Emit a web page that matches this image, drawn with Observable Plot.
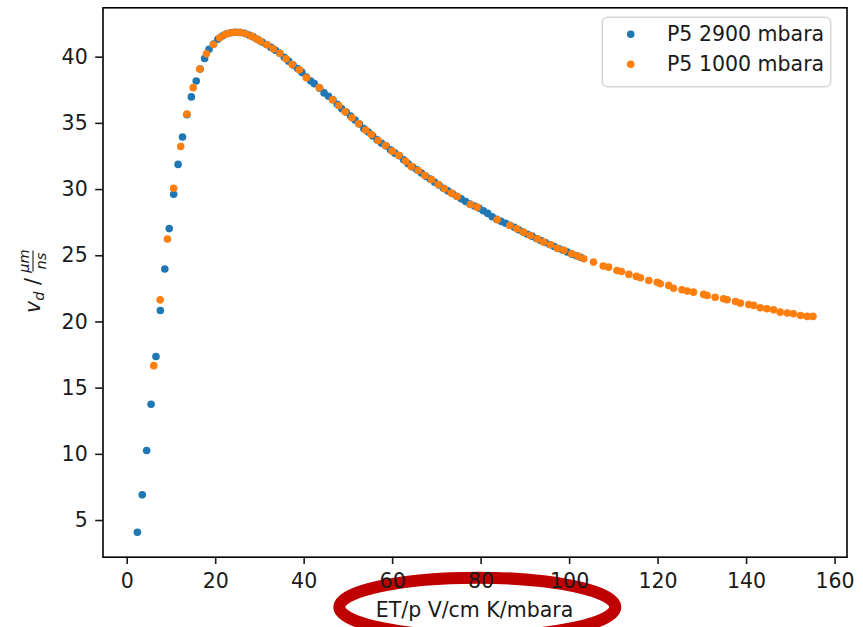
<!DOCTYPE html>
<html><head><meta charset="utf-8">
<script src="https://cdn.jsdelivr.net/npm/d3@7"></script>
<script src="https://cdn.jsdelivr.net/npm/@observablehq/plot@0.6"></script>
<style>
body{margin:0;background:#fff}
#chart{position:relative;width:863px;height:627px;overflow:hidden;background:#fff}
</style>
</head><body><div id="chart"></div>
<script>
const seriesNames = ["P5 2900 mbara", "P5 1000 mbara"];
const seriesColors = ["#1f77b4", "#ff7f0e"];
const xTicks = [0, 20, 40, 60, 80, 100, 120, 140, 160];
const yTicks = [5, 10, 15, 20, 25, 30, 35, 40];
const xLabel = "ET/p V/cm K/mbara";

const p2900_x = [2.3, 3.4, 4.4, 5.4, 6.5, 7.5, 8.5, 9.5, 10.5, 11.5, 12.5, 13.5, 14.5, 15.6, 16.5, 17.5, 18.5, 19.5, 20.5, 21.5, 22.5, 23.5, 24.5, 25.5, 26.5, 27.5, 28.5, 29.5, 30.5, 31.5, 32.5, 33.5, 34.5, 35.5, 36.5, 37.5, 38.5, 39.5, 40.5, 41.5, 42.3, 43.5, 44.5, 45.5, 46.5, 47.5, 48.5, 49.5, 50.5, 51.5, 52.5, 53.5, 54.5, 55.5, 56.5, 57.5, 58.5, 59.5, 60.5, 61.5, 62.5, 63.5, 64.5, 65.5, 66.5, 67.5, 68.5, 69.5, 70.5, 71.5, 72.5, 73.5, 74.5, 75.5, 76.5, 77.5, 78.5, 79.5, 80.5, 81.5, 82.5, 83.5, 84.5, 85.5, 86.5, 87.5, 88.5, 89.5, 90.5, 91.5, 92.5, 93.5, 94.5, 95.5, 96.5, 97.5, 98.5, 99.5, 100.5, 101.5, 102.5];
const p2900_y = [4.12, 6.94, 10.29, 13.78, 17.39, 20.86, 24.0, 27.05, 29.65, 31.9, 33.97, 35.65, 37.0, 38.2, 39.1, 39.9, 40.6, 41.0, 41.35, 41.6, 41.77, 41.85, 41.88, 41.86, 41.8, 41.68, 41.52, 41.34, 41.15, 40.96, 40.74, 40.52, 40.3, 40.0, 39.7, 39.4, 39.15, 38.85, 38.5, 38.2, 38.0, 37.65, 37.3, 37.05, 36.78, 36.45, 36.1, 35.85, 35.55, 35.25, 34.95, 34.6, 34.35, 34.05, 33.75, 33.5, 33.3, 33.0, 32.75, 32.55, 32.25, 31.95, 31.7, 31.5, 31.25, 31.0, 30.8, 30.55, 30.35, 30.1, 29.9, 29.7, 29.5, 29.3, 29.1, 28.9, 28.75, 28.6, 28.4, 28.2, 27.95, 27.75, 27.6, 27.45, 27.3, 27.15, 26.97, 26.8, 26.63, 26.48, 26.3, 26.15, 26.0, 25.85, 25.7, 25.55, 25.42, 25.28, 25.12, 25.0, 24.88];

const p1000_x = [6.0, 7.45, 9.1, 10.5, 12.1, 13.5, 14.9, 16.4, 17.9, 19.5, 20.9, 22.0, 22.9, 24.1, 25.45, 26.8, 28.1, 29.15, 30.1, 31.6, 33.0, 34.5, 35.9, 37.3, 38.9, 40.5, 43.4, 46.4, 47.8, 49.25, 50.8, 52.3, 53.9, 55.2, 56.7, 58.4, 59.9, 61.4, 62.9, 64.2, 65.8, 67.3, 68.8, 70.3, 71.7, 73.3, 74.6, 77.6, 79.1, 83.6, 86.5, 88.1, 89.6, 91.1, 92.7, 94.1, 95.7, 97.2, 98.7, 100.5, 101.9, 103.2, 105.4, 107.6, 108.8, 110.7, 111.7, 113.4, 115.1, 116.0, 117.9, 119.8, 120.5, 122.4, 123.5, 125.4, 126.6, 128.0, 130.3, 131.1, 132.9, 134.8, 135.6, 137.5, 138.6, 140.5, 141.6, 143.1, 144.6, 146.1, 147.6, 149.2, 150.6, 152.2, 153.7, 155.0];
const p1000_y = [16.7, 21.67, 26.27, 30.1, 33.25, 35.7, 37.7, 39.1, 40.25, 40.96, 41.46, 41.69, 41.81, 41.87, 41.87, 41.77, 41.59, 41.39, 41.21, 40.94, 40.63, 40.3, 39.88, 39.45, 39.05, 38.45, 37.7, 36.78, 36.35, 35.88, 35.42, 34.97, 34.5, 34.16, 33.71, 33.33, 32.9, 32.58, 32.15, 31.75, 31.44, 31.06, 30.76, 30.38, 30.06, 29.73, 29.48, 28.87, 28.67, 27.72, 27.29, 27.04, 26.78, 26.53, 26.28, 26.03, 25.83, 25.57, 25.42, 25.15, 24.97, 24.77, 24.52, 24.22, 24.14, 23.89, 23.81, 23.59, 23.44, 23.34, 23.13, 23.0, 22.88, 22.76, 22.55, 22.43, 22.33, 22.25, 22.08, 22.0, 21.87, 21.75, 21.68, 21.55, 21.42, 21.32, 21.25, 21.07, 21.0, 20.92, 20.74, 20.67, 20.62, 20.49, 20.42, 20.42];

const s2900 = p2900_x.map((x, i) => ({x, y: p2900_y[i]}));
const s1000 = p1000_x.map((x, i) => ({x, y: p1000_y[i]}));

const W = 863, H = 627;
const FONT = "DejaVu Sans";
const plot = Plot.plot({
  width: W, height: H,
  marginLeft: 102.5, marginRight: 16.5, marginTop: 7.3, marginBottom: 70.3,
  style: {fontFamily: FONT, fontSize: "20.5px", background: "transparent", color: "#1a1a1a", overflow: "visible"},
  x: {domain: [-5.47, 162.7]},
  y: {domain: [2.23, 43.73]},
  marks: [
    Plot.axisX({ticks: xTicks, tickSize: 7.3, tickPadding: 9, tickFormat: d => String(d), label: null, strokeWidth: 1.6}),
    Plot.axisY({ticks: yTicks, tickSize: 7.3, tickPadding: 8, tickFormat: d => String(d), label: null, strokeWidth: 1.6}),
    Plot.dot(s2900, {x: "x", y: "y", r: 3.8, fill: seriesColors[0]}),
    Plot.dot(s1000, {x: "x", y: "y", r: 3.8, fill: seriesColors[1]}),
    Plot.frame({stroke: "#000", strokeWidth: 1.6})
  ]
});

const svg = d3.select(plot);
// red annotation ellipse (behind everything)
svg.insert("ellipse", ":first-child")
  .attr("cx", 477.3).attr("cy", 607).attr("rx", 138).attr("ry", 29.3)
  .attr("fill", "none").attr("stroke", "#c00000").attr("stroke-width", 12);

// x label
svg.append("text").attr("x", 474.5).attr("y", 616.7).attr("text-anchor", "middle")
  .attr("font-family", FONT).attr("font-size", 20.5).attr("fill", "#1a1a1a").text(xLabel);

// y label: v_d / (μm / ns)
const g = svg.append("g").attr("transform", "translate(40,282) rotate(-90)")
  .attr("font-family", FONT).attr("fill", "#1a1a1a");
const t = g.append("text").attr("x", -31).attr("y", 0).attr("font-size", 20.5).attr("text-anchor", "start");
t.append("tspan").attr("font-style", "italic").text("v");
t.append("tspan").attr("font-style", "italic").attr("font-size", 14.5).attr("dy", 3.5).text("d");
t.append("tspan").attr("dy", -3.5).text("\u00a0/\u00a0");
g.append("text").attr("x", 21).attr("y", -11.5).attr("text-anchor", "middle")
  .attr("font-size", 14.5).attr("font-style", "italic").text("\u03bcm");
g.append("line").attr("x1", 10.5).attr("x2", 31.5).attr("y1", -7).attr("y2", -7)
  .attr("stroke", "#1a1a1a").attr("stroke-width", 1.1);
g.append("text").attr("x", 21).attr("y", 6).attr("text-anchor", "middle")
  .attr("font-size", 14.5).attr("font-style", "italic").text("ns");

// legend
const lg = svg.append("g").attr("font-family", FONT);
lg.append("rect").attr("x", 602.3).attr("y", 17.3).attr("width", 228.4).attr("height", 69.4)
  .attr("rx", 5).attr("fill", "#fff").attr("fill-opacity", 0.8)
  .attr("stroke", "#d6d6d6").attr("stroke-width", 1.5);
seriesNames.forEach((name, i) => {
  const cy = 34.3 + i * 30;
  lg.append("circle").attr("cx", 630.7).attr("cy", cy).attr("r", 3.8).attr("fill", seriesColors[i]);
  lg.append("text").attr("x", 667).attr("y", cy + 6.4).attr("text-anchor", "start")
    .attr("font-size", 20.5).attr("fill", "#1a1a1a").text(name);
});

document.getElementById("chart").appendChild(plot);
</script>
</body></html>
